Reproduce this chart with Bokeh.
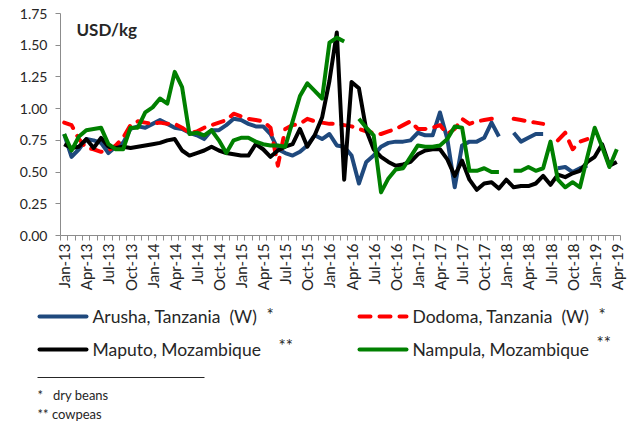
import math
from bokeh.plotting import figure
from bokeh.models import Range1d, FixedTicker, NumeralTickFormatter, Label
from bokeh.core.properties import value
from bokeh.embed import file_html
from bokeh.resources import INLINE

N = None
# 76 months, Jan-13 .. Apr-19 (index 0..75)
tick_labels = ["Jan-13", "Apr-13", "Jul-13", "Oct-13", "Jan-14", "Apr-14", "Jul-14", "Oct-14",
               "Jan-15", "Apr-15", "Jul-15", "Oct-15", "Jan-16", "Apr-16", "Jul-16", "Oct-16",
               "Jan-17", "Apr-17", "Jul-17", "Oct-17", "Jan-18", "Apr-18", "Jul-18", "Oct-18",
               "Jan-19", "Apr-19"]

arusha = [0.80, 0.62, 0.68, 0.76, 0.75, 0.73, 0.65, 0.70, 0.73, 0.84, 0.86, 0.85,
          0.88, 0.91, 0.88, 0.85, 0.84, 0.81, 0.79, 0.76, 0.83, 0.83, 0.87, 0.92,
          0.91, 0.88, 0.86, 0.86, 0.80, 0.68, 0.65, 0.63, 0.66, 0.71, 0.79, 0.76,
          0.80, 0.71, 0.70, 0.63, 0.41, 0.58, 0.63, 0.70, 0.73, 0.74, 0.74, 0.75,
          0.81, 0.79, 0.79, 0.97, 0.76, 0.38, 0.71, 0.74, 0.74, 0.77, 0.89, 0.78,
          N, 0.81, 0.74, 0.77, 0.80, 0.80, N, 0.53, 0.54, 0.50, 0.53, 0.55,
          N, N, N, N]

dodoma = [0.89, 0.87, 0.76, 0.69, 0.68, 0.66, 0.67, 0.71, 0.77, 0.87, 0.90, 0.89,
          0.88, 0.89, 0.88, 0.88, 0.85, 0.81, 0.82, 0.85, 0.87, 0.89, 0.91, 0.96,
          0.94, 0.92, 0.91, 0.90, 0.85, 0.55, 0.84, 0.87, 0.88, 0.92, 0.90, 0.89,
          0.88, 0.88, 0.87, 0.86, 0.84, 0.82, 0.81, 0.80, 0.82, 0.84, 0.87, 0.90,
          0.84, 0.84, 0.85, 0.87, 0.80, 0.84, 0.92, 0.88, 0.90, 0.91, 0.92, 0.91,
          N, 0.92, 0.91, 0.90, 0.89, 0.88, N, 0.75, 0.81, 0.68, 0.74, 0.76,
          N, N, N, N]

maputo = [0.72, 0.69, 0.70, 0.76, 0.69, 0.77, 0.70, 0.69, 0.70, 0.69, 0.70, 0.71,
          0.72, 0.73, 0.75, 0.76, 0.67, 0.63, 0.65, 0.67, 0.70, 0.67, 0.65, 0.64,
          0.63, 0.63, 0.72, 0.68, 0.62, 0.67, 0.70, 0.72, 0.84, 0.70, 0.79, 0.93,
          1.22, 1.60, 0.44, 1.21, 1.16, 0.83, 0.68, 0.62, 0.58, 0.55, 0.56, 0.58,
          0.64, 0.67, 0.68, 0.68, 0.60, 0.47, 0.59, 0.44, 0.36, 0.41, 0.42, 0.37,
          0.44, 0.38, 0.39, 0.39, 0.41, 0.47, 0.40, 0.48, 0.46, 0.49, 0.51, 0.58,
          0.62, 0.72, 0.55, 0.58]

nampula = [0.80, 0.67, 0.78, 0.83, 0.84, 0.85, 0.72, 0.68, 0.68, 0.85, 0.85, 0.97,
           1.01, 1.08, 1.04, 1.29, 1.17, 0.80, 0.81, 0.79, 0.83, 0.75, 0.65, 0.75,
           0.77, 0.77, 0.74, 0.72, 0.71, 0.71, 0.70, 0.90, 1.10, 1.20, 1.14, 1.08,
           1.52, 1.56, 1.53, N, 0.92, 0.85, 0.79, 0.34, 0.45, 0.52, 0.53, 0.62,
           0.71, 0.70, 0.70, 0.71, 0.76, 0.86, 0.85, 0.51, 0.51, 0.53, 0.50, 0.50,
           N, 0.51, 0.51, 0.54, 0.51, 0.53, 0.74, 0.44, 0.38, 0.42, 0.38, 0.62,
           0.85, 0.70, 0.54, 0.68]

NB = "\u00a0"
series_names = ["Arusha, Tanzania" + NB * 2 + "(W)", "Dodoma, Tanzania" + NB * 2 + "(W)",
                "Maputo, Mozambique", "Nampula, Mozambique"]
series_marks = ["*", "*", "**", "**"]
footnotes = ["*" + NB * 3 + "dry beans", "**" + NB + "cowpeas"]

y_ticks = [0.0, 0.25, 0.5, 0.75, 1.0, 1.25, 1.5, 1.75]

FONT = "Lato"
AXIS_COL = "#8c8c8c"
TXT_COL = "#262626"
BLUE, RED, BLACK, GREEN = "#1F497D", "#FF0000", "#000000", "#008000"
RED_DASH = "11 9"

def clean(v):
    return [float("nan") if a is None else a for a in v]

n = len(maputo)
x = list(range(n))

W, H1, H2 = 634, 304, 119

p = figure(width=W, height=H1, x_range=Range1d(-0.5, n - 0.5), y_range=Range1d(0, 1.75),
           output_backend="svg", toolbar_location=None,
           min_border_left=60, min_border_right=14, min_border_top=13, min_border_bottom=69)
p.outline_line_color = None
p.grid.visible = False

for ys, col, dash in [(arusha, BLUE, "solid"), (dodoma, RED, RED_DASH),
                      (maputo, BLACK, "solid"), (nampula, GREEN, "solid")]:
    p.line(x, clean(ys), line_color=col, line_width=4, line_join="round",
           line_cap="round" if dash != "solid" else "butt", line_dash=dash)

# x axis
tick_pos = list(range(0, n, 3))
p.xaxis.ticker = FixedTicker(ticks=tick_pos, minor_ticks=[i - 0.5 for i in range(n + 1)])
p.xaxis.major_label_overrides = {t: lbl for t, lbl in zip(tick_pos, tick_labels)}
p.xaxis.major_label_orientation = math.pi / 2
p.xaxis.major_tick_line_color = None
p.xaxis.major_tick_out = 5
p.xaxis.major_tick_in = 0
p.xaxis.minor_tick_out = 5
p.xaxis.minor_tick_in = 0
p.xaxis.minor_tick_line_color = AXIS_COL
p.xaxis.major_label_standoff = 3
p.xaxis.major_label_text_font_size = "15px"

# y axis
p.yaxis.ticker = FixedTicker(ticks=y_ticks, minor_ticks=[])
p.yaxis.formatter = NumeralTickFormatter(format="0.00")
p.yaxis.major_tick_out = 5
p.yaxis.major_tick_in = 0
p.yaxis.major_label_standoff = 8
p.yaxis.major_label_text_font_size = "14px"
p.yaxis.major_tick_line_color = AXIS_COL

for ax in (p.xaxis, p.yaxis):
    ax.axis_line_color = AXIS_COL
    ax.major_label_text_font = FONT
    ax.major_label_text_color = TXT_COL

p.add_layout(Label(x=16, y=206, x_units="screen", y_units="screen", text="USD/kg",
                   text_font=FONT, text_font_style="bold", text_font_size="17px",
                   text_color=TXT_COL, text_baseline="alphabetic"))

# legend / footnotes panel (coordinates in pixels of this panel)
q = figure(width=W, height=H2, x_range=Range1d(0, W), y_range=Range1d(H2, 0),
           output_backend="svg", toolbar_location=None, x_axis_type=None, y_axis_type=None,
           min_border=0, min_border_left=0, min_border_right=0,
           min_border_top=0, min_border_bottom=0)
q.outline_line_color = None
q.grid.visible = False

sw_x0 = [37, 357, 37, 357]
sw_y = [12, 12, 45, 45]
cols = [BLUE, RED, BLACK, GREEN]
dashes = ["solid", RED_DASH, "solid", "solid"]
for x0, yy, c, d in zip(sw_x0, sw_y, cols, dashes):
    q.line([x0 + 2, x0 + 49], [yy, yy], line_color=c, line_width=4,
           line_cap="round", line_dash=d)

q.text(x=[a + 55 for a in sw_x0], y=sw_y, text=series_names,
       text_font=value(FONT), text_font_size="17.5px", text_color=TXT_COL,
       text_baseline="middle")
q.text(x=[266, 598, 278, 596], y=[10, 10, 41, 38], text=series_marks,
       text_font=value(FONT), text_font_size="17px", text_color=TXT_COL,
       text_baseline="middle")
q.line([37, 204], [73, 73], line_color=TXT_COL, line_width=1)
q.text(x=[37, 37], y=[90, 109], text=footnotes, text_font=value(FONT),
       text_font_size="13px", text_color=TXT_COL, text_baseline="middle")

open("out.html", "w").write(file_html([p, q], INLINE))
